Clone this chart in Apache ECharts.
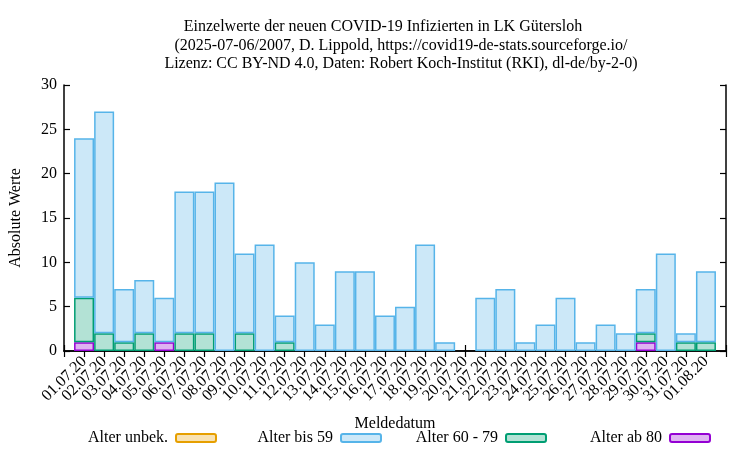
<!DOCTYPE html>
<html>
<head>
<meta charset="utf-8">
<script src="https://cdn.jsdelivr.net/npm/echarts@6/dist/echarts.min.js"></script>
<style>html,body{margin:0;padding:0;background:#fff}#c{width:750px;height:450px}</style>
</head>
<body>
<div id="c"></div>
<script>
const dates = ['01.07.20','02.07.20','03.07.20','04.07.20','05.07.20','06.07.20','07.07.20','08.07.20','09.07.20','10.07.20','11.07.20','12.07.20','13.07.20','14.07.20','15.07.20','16.07.20','17.07.20','18.07.20','19.07.20','20.07.20','21.07.20','22.07.20','23.07.20','24.07.20','25.07.20','26.07.20','27.07.20','28.07.20','29.07.20','30.07.20','31.07.20','01.08.20'];
const alterUnbek = [0,0,0,0,0,0,0,0,0,0,0,0,0,0,0,0,0,0,0,0,0,0,0,0,0,0,0,0,0,0,0,0];
const alterBis59 = [18,25,6,6,5,16,16,19,9,12,3,10,3,9,9,4,5,12,1,0,6,7,1,3,6,1,3,2,5,11,1,8];
const alter60bis79 = [5,2,1,2,0,2,2,0,2,0,1,0,0,0,0,0,0,0,0,0,0,0,0,0,0,0,0,0,1,0,1,1];
const alterAb80 = [1,0,0,0,1,0,0,0,0,0,0,0,0,0,0,0,0,0,0,0,0,0,0,0,0,0,0,0,1,0,0,0];
const yTicks = [0,5,10,15,20,25,30];

const FONT = 'Liberation Serif';
const FS = 16;
const cats = [''].concat(dates, ['']);
const pad = arr => ['-'].concat(arr.map(v => v === 0 ? '-' : v), ['-']);

function series(name, data, fill, stroke) {
  return {
    name: name, type: 'bar', stack: 'all', data: pad(data),
    barWidth: 20, xAxisIndex: 0, yAxisIndex: 0,
    itemStyle: { color: fill, borderColor: stroke, borderWidth: 1.5 },
    emphasis: { disabled: true }, animation: false
  };
}

const legendBase = (name, right) => ({
  data: [name], right: right, top: 425, align: 'right', orient: 'horizontal',
  itemWidth: 40, itemHeight: 8, itemGap: 0, selectedMode: false,
  textStyle: { fontFamily: FONT, fontSize: FS, color: '#000', padding: [0, 3, 0, 0] }
});

const titleStyle = { fontFamily: FONT, fontSize: FS, fontWeight: 'normal', color: '#000' };

const chart = echarts.init(document.getElementById('c'), null, { renderer: 'canvas' });
chart.setOption({
  animation: false,
  backgroundColor: '#fff',
  title: [
    { text: 'Einzelwerte der neuen COVID-19 Infizierten in LK Gütersloh', left: 378, top: 14, textAlign: 'center', textStyle: titleStyle },
    { text: '(2025-07-06/2007, D. Lippold, https://covid19-de-stats.sourceforge.io/', left: 396, top: 33, textAlign: 'center', textStyle: titleStyle },
    { text: 'Lizenz: CC BY-ND 4.0, Daten: Robert Koch-Institut (RKI), dl-de/by-2-0)', left: 396, top: 51, textAlign: 'center', textStyle: titleStyle }
  ],
  legend: [
    legendBase('Alter unbek.', 528),
    legendBase('Alter bis 59', 363),
    legendBase('Alter 60 - 79', 198),
    legendBase('Alter ab 80', 34)
  ],
  grid: { left: 62, right: 24, top: 85, bottom: 99, containLabel: false },
  xAxis: [
    { type: 'category', data: cats, boundaryGap: false, position: 'bottom',
      name: 'Meldedatum', nameLocation: 'middle', nameGap: 65,
      nameTextStyle: { fontFamily: FONT, fontSize: FS, color: '#000' },
      axisLine: { lineStyle: { color: '#000', width: 1.5 } },
      axisTick: { inside: true, length: 6, interval: 0, lineStyle: { color: '#000', width: 1.2 } },
      axisLabel: { interval: 0, rotate: 45, margin: 8, fontFamily: FONT, fontSize: FS, color: '#000' },
      splitLine: { show: false } },
    { type: 'category', data: cats, boundaryGap: false, position: 'top',
      axisLine: { lineStyle: { color: '#000', width: 1.5 } },
      axisTick: { inside: true, length: 6, interval: 0, lineStyle: { color: '#000', width: 1.2 } },
      axisLabel: { show: false }, splitLine: { show: false } }
  ],
  yAxis: [
    { type: 'value', min: yTicks[0], max: yTicks[yTicks.length - 1], interval: 5, position: 'left',
      name: 'Absolute Werte', nameLocation: 'middle', nameGap: 40, nameRotate: 90,
      nameTextStyle: { fontFamily: FONT, fontSize: FS, color: '#000' },
      axisLine: { show: true, lineStyle: { color: '#000', width: 1.5 } },
      axisTick: { show: true, inside: true, length: 6, lineStyle: { color: '#000', width: 1.2 } },
      axisLabel: { margin: 7, fontFamily: FONT, fontSize: FS, color: '#000' },
      splitLine: { show: false } },
    { type: 'value', min: yTicks[0], max: yTicks[yTicks.length - 1], interval: 5, position: 'right',
      axisLine: { show: true, lineStyle: { color: '#000', width: 1.5 } },
      axisTick: { show: true, inside: true, length: 6, lineStyle: { color: '#000', width: 1.2 } },
      axisLabel: { show: false }, splitLine: { show: false } }
  ],
  series: [
    series('Alter ab 80', alterAb80, '#dfb3f2', '#9400d3'),
    series('Alter 60 - 79', alter60bis79, '#b3e2d5', '#009e73'),
    series('Alter bis 59', alterBis59, '#cce8f8', '#56b4e9'),
    series('Alter unbek.', alterUnbek, '#f8e2b3', '#e69f00')
  ]
});
</script>
</body>
</html>
